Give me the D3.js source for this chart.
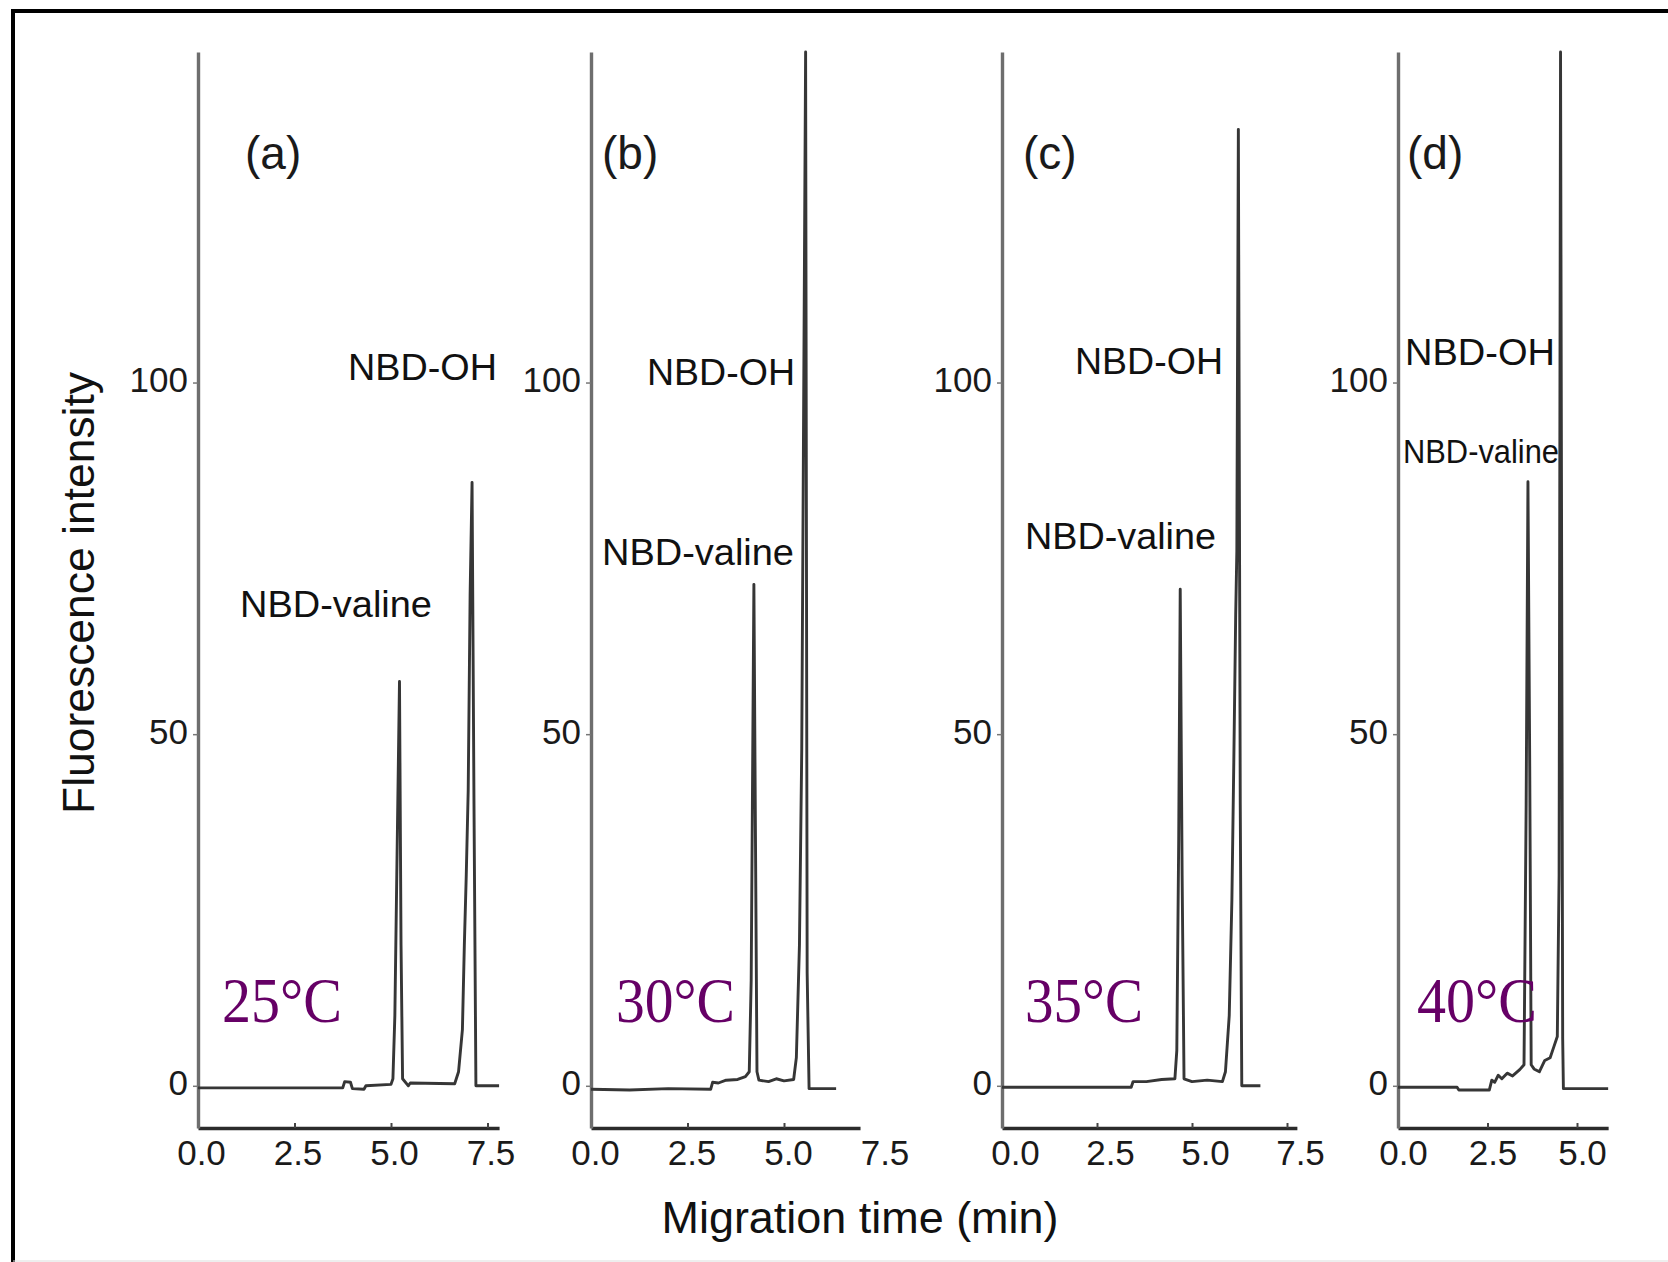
<!DOCTYPE html>
<html><head><meta charset="utf-8">
<script src="https://cdn.jsdelivr.net/npm/d3@7"></script>
<style>
html,body{margin:0;padding:0;background:#fff;}
svg{display:block;}
</style></head><body>
<svg id="chart" width="1668" height="1262"></svg>
<script>
// ---------------- DATA ----------------
const panelLetters = ["(a)", "(b)", "(c)", "(d)"];
const temperatures = ["25°C", "30°C", "35°C", "40°C"];
const peakNames = ["NBD-valine", "NBD-OH"];
const yTickValues = [0, 50, 100];
const xTickValuesLong = [0, 2.5, 5.0, 7.5];
const xTickValuesShort = [0, 2.5, 5.0];
const yTitle = "Fluorescence intensity";
const xTitle = "Migration time (min)";

// Panel (a) 25°C
const timeA =      [0, 3.75, 3.8, 3.95, 4.0, 4.3, 4.35, 5.0, 5.05, 5.1, 5.15, 5.22, 5.26, 5.3, 5.45, 5.5, 6.65, 6.75, 6.85, 6.9, 6.95, 7.0, 7.05, 7.1, 7.15, 7.2, 7.8];
const intensityA = [-0.3, -0.3, 0.6, 0.5, -0.4, -0.5, 0.0, 0.2, 1.0, 10, 30, 57.5, 20, 1.0, 0.0, 0.4, 0.3, 2, 8, 20, 30, 42, 70, 85.8, 40, 0.0, 0.0];

// Panel (b) 30°C
const timeB =      [0, 1.0, 2.0, 3.1, 3.15, 3.3, 3.5, 3.8, 4.0, 4.1, 4.15, 4.22, 4.26, 4.3, 4.35, 4.6, 4.8, 5.0, 5.25, 5.32, 5.4, 5.46, 5.56, 5.6, 5.65, 6.35];
const intensityB = [-0.5, -0.6, -0.4, -0.5, 0.5, 0.4, 0.8, 0.9, 1.3, 2, 15, 71.3, 36, 2, 0.8, 0.6, 1.0, 0.7, 0.9, 4, 20, 48, 147, 16, -0.4, -0.4];

// Panel (c) 35°C
const timeC =      [0, 3.4, 3.45, 3.8, 4.2, 4.55, 4.6, 4.65, 4.69, 4.74, 4.79, 5.0, 5.4, 5.8, 5.88, 5.98, 6.05, 6.1, 6.15, 6.18, 6.22, 6.27, 6.31, 6.8];
const intensityC = [-0.2, -0.2, 0.6, 0.6, 0.9, 1.0, 5, 35, 70.6, 30, 1.0, 0.6, 0.8, 0.6, 2, 10, 26.5, 46, 67, 76, 136, 40, 0.0, 0.0];

// Panel (d) 40°C
const timeD =      [0, 1.65, 1.7, 2.55, 2.62, 2.7, 2.8, 2.9, 3.05, 3.2, 3.4, 3.52, 3.58, 3.63, 3.68, 3.72, 3.8, 3.95, 4.1, 4.25, 4.35, 4.45, 4.5, 4.54, 4.6, 4.62, 5.87];
const intensityD = [-0.2, -0.2, -0.6, -0.6, 0.8, 0.5, 1.5, 1.0, 1.8, 1.4, 2.3, 3.0, 40, 85.9, 45, 3.0, 2.4, 2.0, 3.6, 4.0, 5.5, 7, 30, 147, 6.8, -0.4, -0.4];

// ---------------- LAYOUT ----------------
const layout = [
  {x0:198,  ppu:38.6, tMax:7.80, ticks:xTickValuesLong,  tickDx:3,  letterX:245,  ohX:348,  ohY:380, ohW:149, valX:240,  valY:617, valW:192, valFont:37, tempX:222,  tempW:120},
  {x0:591,  ppu:38.6, tMax:6.97, ticks:xTickValuesLong,  tickDx:4,  letterX:602,  ohX:647,  ohY:385, ohW:148, valX:602,  valY:565, valW:192, valFont:37, tempX:616,  tempW:119},
  {x0:1002, ppu:38.0, tMax:7.76, ticks:xTickValuesLong,  tickDx:13, letterX:1023, ohX:1075, ohY:374, ohW:148, valX:1025, valY:549, valW:191, valFont:37, tempX:1025, tempW:118},
  {x0:1398, ppu:35.8, tMax:5.87, ticks:xTickValuesShort, tickDx:5,  letterX:1407, ohX:1405, ohY:365, ohW:150, valX:1403, valY:463, valW:156, valFont:33, tempX:1417, tempW:120}
];
const series = [[timeA, intensityA], [timeB, intensityB], [timeC, intensityC], [timeD, intensityD]];

const SANS = "'Liberation Sans', Arial, Helvetica, sans-serif";
const SERIF = "'Liberation Serif', 'Times New Roman', serif";

const svg = d3.select("#chart");
svg.append("rect").attr("width",1668).attr("height",1262).attr("fill","#fff");

// frame
svg.append("path").attr("d","M13,1262 V11 H1668").attr("fill","none").attr("stroke","#000").attr("stroke-width",4);
svg.append("line").attr("x1",13).attr("x2",1668).attr("y1",1261).attr("y2",1261).attr("stroke","#ddd").attr("stroke-width",1);

const y = d3.scaleLinear().domain([-6, 147]).range([1128, 52]);

layout.forEach((L, i) => {
  const x = d3.scaleLinear().domain([0, L.tMax]).range([L.x0, L.x0 + L.tMax * L.ppu]);
  const g = svg.append("g");

  // x axis
  const xa = g.append("g").attr("transform", `translate(0,${y(-6)})`)
    .call(d3.axisBottom(x).tickValues(L.ticks).tickFormat(d3.format(".1f"))
      .tickSize(-5).tickSizeOuter(0).tickPadding(12));
  xa.select(".domain").attr("stroke","#2b2b2b").attr("stroke-width",3.5);
  xa.selectAll(".tick line").attr("stroke","#444").attr("stroke-width",2)
    .attr("display", d => d > L.tMax ? "none" : null);
  xa.selectAll(".tick text").attr("font-family",SANS).attr("font-size",35).attr("fill","#1a1a1a").attr("dx",L.tickDx);

  // y axis
  const ya = g.append("g").attr("transform", `translate(${L.x0},0)`)
    .call(d3.axisLeft(y).tickValues(yTickValues).tickFormat(d3.format("d"))
      .tickSize(5).tickSizeOuter(0).tickPadding(5));
  ya.select(".domain").attr("stroke","#6e6e6e").attr("stroke-width",3.4);
  ya.selectAll(".tick line").attr("stroke","#777").attr("stroke-width",1.5);
  ya.selectAll(".tick text").attr("font-family",SANS).attr("font-size",35).attr("fill","#1a1a1a").attr("dy","0.26em");

  // trace
  const [t, v] = series[i];
  const pts = t.map((tt, k) => [tt, v[k]]);
  g.append("path").datum(pts)
    .attr("d", d3.line().x(d => x(d[0])).y(d => y(d[1])))
    .attr("fill","none").attr("stroke","#363636").attr("stroke-width",2.9)
    .attr("stroke-linejoin","round");

  // panel letter
  g.append("text").attr("x",L.letterX).attr("y",169).text(panelLetters[i])
    .attr("font-family",SANS).attr("font-size",46).attr("fill","#1a1a1a");

  // peak labels
  g.append("text").attr("x",L.ohX).attr("y",L.ohY).text(peakNames[1])
    .attr("font-family",SANS).attr("font-size",37).attr("fill","#111")
    .attr("textLength",L.ohW).attr("lengthAdjust","spacingAndGlyphs");
  g.append("text").attr("x",L.valX).attr("y",L.valY).text(peakNames[0])
    .attr("font-family",SANS).attr("font-size",L.valFont).attr("fill","#111")
    .attr("textLength",L.valW).attr("lengthAdjust","spacingAndGlyphs");

  // temperature
  g.append("text").attr("x",L.tempX).attr("y",1022).text(temperatures[i])
    .attr("font-family",SERIF).attr("font-size",64).attr("fill","#660066")
    .attr("textLength",L.tempW).attr("lengthAdjust","spacingAndGlyphs");
});

// axis titles
svg.append("text").attr("transform","translate(94,593) rotate(-90)")
  .attr("text-anchor","middle").text(yTitle)
  .attr("font-family",SANS).attr("font-size",44).attr("fill","#111")
  .attr("textLength",442).attr("lengthAdjust","spacingAndGlyphs");
svg.append("text").attr("x",860).attr("y",1233)
  .attr("text-anchor","middle").text(xTitle)
  .attr("font-family",SANS).attr("font-size",44).attr("fill","#111")
  .attr("textLength",397).attr("lengthAdjust","spacingAndGlyphs");
</script>
</body></html>
